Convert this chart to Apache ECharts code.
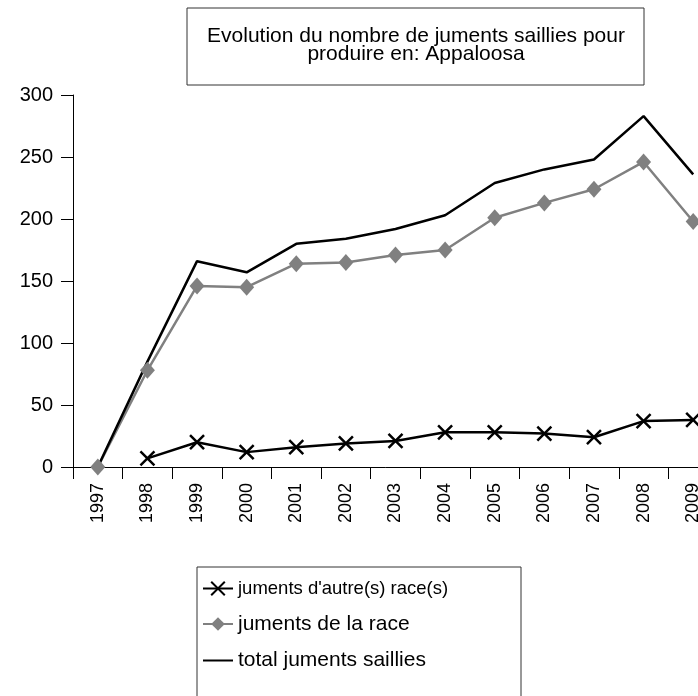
<!DOCTYPE html>
<html>
<head>
<meta charset="utf-8">
<script src="https://cdn.jsdelivr.net/npm/echarts@6/dist/echarts.min.js"></script>
<style>
  html, body { margin: 0; padding: 0; background: #fff; }
  #chart { width: 698px; height: 696px; }
</style>
</head>
<body>
<div id="chart"></div>
<script>
  // categories and series
  let years = ["1997", "1998", "1999", "2000", "2001", "2002", "2003", "2004", "2005", "2006", "2007", "2008", "2009"];
  let autreRace = [null, 7, 20, 12, 16, 19, 21, 28, 28, 27, 24, 37, 38];
  let deLaRace = [0, 78, 146, 145, 164, 165, 171, 175, 201, 213, 224, 246, 198];
  let totalSaillies = [0, 85, 166, 157, 180, 184, 192, 203, 229, 240, 248, 283, 236];
  let titleLines = ["Evolution du nombre de juments saillies pour", "produire en: Appaloosa"];
  let seriesNames = ["juments d'autre(s) race(s)", "juments de la race", "total juments saillies"];

  let font = "Liberation Sans, Arial, sans-serif";
  let myChart = echarts.init(document.getElementById("chart"));

  let option = {
    backgroundColor: "#fff",
    animation: false,
    textStyle: { fontFamily: font, color: "#000" },
    graphic: [
      {
        type: "rect",
        shape: { x: 187, y: 8, width: 457, height: 77 },
        style: { fill: "#fff", stroke: "#333", lineWidth: 1 },
      },
      {
        type: "text",
        style: {
          x: 416,
          y: 27,
          text: titleLines.join("\n"),
          font: "21px " + font,
          lineHeight: 18,
          textAlign: "center",
          fill: "#000",
        },
      },
      {
        type: "rect",
        shape: { x: 197, y: 567, width: 324, height: 140 },
        style: { fill: "#fff", stroke: "#333", lineWidth: 1 },
        z: -1,
      },
    ],
    legend: {
      orient: "vertical",
      left: 202,
      top: 579,
      padding: 0,
      itemWidth: 30,
      itemHeight: 17,
      itemGap: 15.5,
      textStyle: { fontSize: 21, color: "#000", fontFamily: font },
      data: [
        { name: seriesNames[0], textStyle: { fontSize: 18.5 } },
        seriesNames[1],
        { name: seriesNames[2], itemStyle: { opacity: 0 } },
      ],
    },
    grid: { left: 73, top: 95, width: 645, height: 372, outerBoundsMode: "none" },
    xAxis: {
      type: "category",
      data: years,
      boundaryGap: true,
      axisLine: { lineStyle: { color: "#000", width: 1 } },
      axisTick: { show: true, length: 12, lineStyle: { color: "#000" } },
      axisLabel: { rotate: 90, margin: 16, fontSize: 18, color: "#000", interval: 0 },
      splitLine: { show: false },
    },
    yAxis: {
      type: "value",
      min: 0,
      max: 300,
      interval: 50,
      axisLine: { show: true, lineStyle: { color: "#000", width: 1 } },
      axisTick: { show: true, length: 12, lineStyle: { color: "#000" } },
      axisLabel: { margin: 20, fontSize: 20, color: "#000" },
      splitLine: { show: false },
    },
    series: [
      {
        name: seriesNames[0],
        type: "line",
        data: autreRace,
        symbol: "path://M0,0L10,10M0,10L10,0",
        symbolSize: 14,
        showAllSymbol: true,
        lineStyle: { color: "#000", width: 2.5 },
        itemStyle: { color: "#000", borderColor: "#000", borderWidth: 2.5 },
      },
      {
        name: seriesNames[1],
        type: "line",
        data: deLaRace,
        symbol: "diamond",
        symbolSize: [15, 17],
        showAllSymbol: true,
        lineStyle: { color: "#808080", width: 2.5 },
        itemStyle: { color: "#808080", borderWidth: 0 },
      },
      {
        name: seriesNames[2],
        type: "line",
        data: totalSaillies,
        symbol: "none",
        lineStyle: { color: "#000", width: 2.5 },
        itemStyle: { color: "#000" },
      },
    ],
  };
  myChart.setOption(option);
</script>
</body>
</html>
